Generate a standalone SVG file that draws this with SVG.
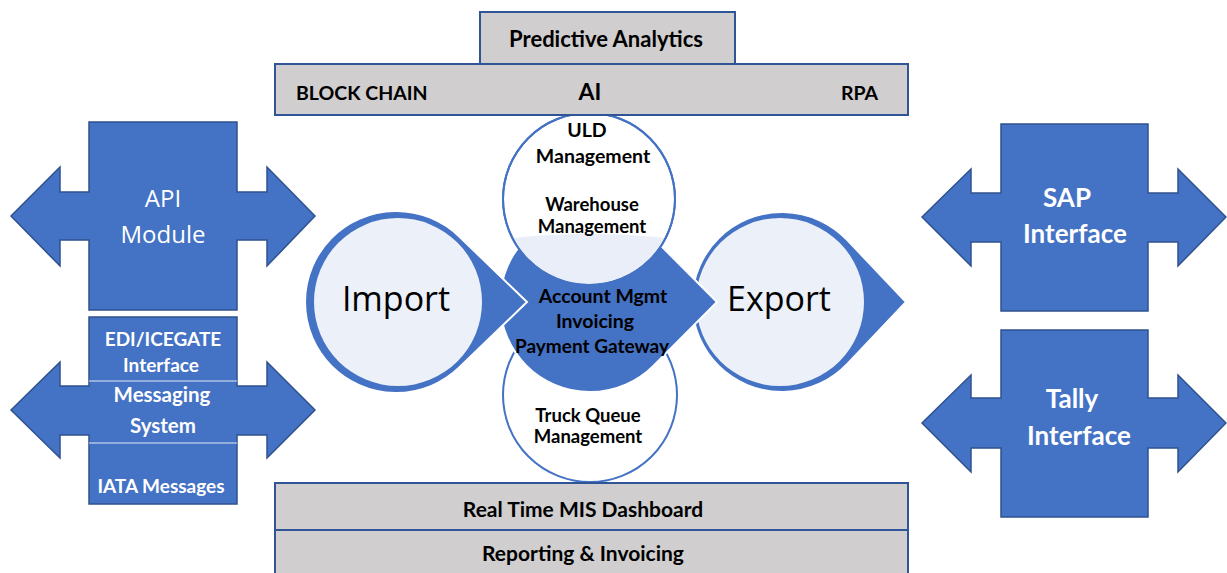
<svg xmlns="http://www.w3.org/2000/svg" width="1227" height="573" viewBox="0 0 1227 573">
  <style>
    .blk{fill:#4472c4;stroke:#2f528f;stroke-width:1.5}
    .bar{fill:#d0cece;stroke:#2f5597;stroke-width:2}
    .tear{fill:#4472c4;stroke:#ffffff;stroke-width:2}
    .inner{fill:#ebf0f9}
    .wc{fill:#ffffff;stroke:#4472c4;stroke-width:2}
    .b{font-family:Lato,"Liberation Sans",sans-serif;font-weight:700;text-anchor:middle;fill:#000}
    .w{fill:#ffffff}
    .st{text-anchor:start}
    .seg{font-family:"Open Sans","Liberation Sans",sans-serif;text-anchor:middle}
    .div{stroke:#ffffff;stroke-width:1;opacity:0.85}
  </style>
  <defs>
    <clipPath id="uldClip"><circle cx="589" cy="199" r="85"/></clipPath>
  </defs>
  <rect width="1227" height="573" fill="#ffffff"/>

  <g id="api-module">
    <path class="blk" d="M11,216 L60,167 L60,192 L89,192 L89,122 L237,122 L237,192 L267,192 L267,167 L315,216 L267,266 L267,240 L237,240 L237,310 L89,310 L89,240 L60,240 L60,266 Z"/>
    <text class="seg w" x="163" y="207" font-size="24">API</text>
    <text class="seg w" x="163" y="243" font-size="24">Module</text>
  </g>

  <g id="messaging-system">
    <path class="blk" d="M11,410 L60,362 L60,386 L89,386 L89,317 L237,317 L237,386 L267,386 L267,362 L315,410 L267,458 L267,435 L237,435 L237,504 L89,504 L89,435 L60,435 L60,458 Z"/>
    <line class="div" x1="89" y1="381" x2="237" y2="381"/>
    <line class="div" x1="89" y1="443" x2="237" y2="443"/>
    <text class="b w" x="163" y="346" font-size="19">EDI/ICEGATE</text>
    <text class="b w" x="161" y="372" font-size="19">Interface</text>
    <text class="b w" x="162" y="402" font-size="20.5">Messaging</text>
    <text class="b w" x="163" y="433" font-size="20.5">System</text>
    <text class="b w" x="161" y="493" font-size="19">IATA Messages</text>
  </g>

  <g id="sap-interface">
    <path class="blk" d="M922,217 L971,169 L971,193 L1001,193 L1001,124 L1148,124 L1148,193 L1178,193 L1178,169 L1226,217 L1178,266 L1178,242 L1148,242 L1148,311 L1001,311 L1001,242 L971,242 L971,266 Z"/>
    <text class="b w" x="1067" y="207" font-size="26">SAP</text>
    <text class="b w" x="1075" y="243" font-size="26">Interface</text>
  </g>

  <g id="tally-interface">
    <path class="blk" d="M922,423 L971,375 L971,398 L1001,398 L1001,330 L1148,330 L1148,398 L1178,398 L1178,375 L1226,423 L1178,472 L1178,448 L1148,448 L1148,517 L1001,517 L1001,448 L971,448 L971,472 Z"/>
    <text class="b w" x="1072" y="408" font-size="26">Tally</text>
    <text class="b w" x="1079" y="445" font-size="26">Interface</text>
  </g>

  <g id="truck-queue">
    <circle class="wc" cx="590" cy="395" r="87"/>
  </g>

  <g id="export">
    <path class="tear" d="M906,302 L847.3,240.1 A90,90 0 1 0 847.3,363.9 Z"/>
    <circle class="inner" cx="780" cy="302" r="84"/>
    <text class="seg" x="779" y="311" font-size="34" fill="#000">Export</text>
  </g>

  <g id="account-mgmt">
    <path class="tear" d="M717,302 L653.6,238.4 A90,90 0 1 0 653.6,365.6 Z"/>
  </g>

  <g id="import">
    <path class="tear" d="M527,302 L459.2,236.5 A91,91 0 1 0 459.2,367.5 Z"/>
    <circle class="inner" cx="398" cy="302" r="84"/>
    <text class="seg" x="396" y="311" font-size="34" fill="#000">Import</text>
  </g>

  <g id="uld-warehouse">
    <circle class="wc" cx="589" cy="199" r="86"/>
    <path clip-path="url(#uldClip)" d="M495,240 Q589,228 685,240 L685,295 L495,295 Z" fill="#e9eef8"/>
    <circle cx="589" cy="199" r="86" fill="none" stroke="#4472c4" stroke-width="2"/>
  </g>

  <g id="center-labels">
    <text class="b" x="587" y="137" font-size="19.5">ULD</text>
    <text class="b" x="593" y="163" font-size="19.5">Management</text>
    <text class="b" x="592" y="211" font-size="18.5">Warehouse</text>
    <text class="b" x="592" y="233" font-size="18.5">Management</text>
    <text class="b" x="603" y="303" font-size="19.5">Account Mgmt</text>
    <text class="b" x="595" y="328" font-size="19.5">Invoicing</text>
    <text class="b" x="592" y="353" font-size="19">Payment Gateway</text>
    <text class="b" x="588" y="422" font-size="18.5">Truck Queue</text>
    <text class="b" x="588" y="443" font-size="18.5">Management</text>
  </g>

  <g id="predictive-analytics">
    <rect class="bar" x="480" y="12" width="255" height="52"/>
    <text class="b" x="606" y="47" font-size="22">Predictive Analytics</text>
  </g>

  <g id="tech-bar">
    <rect class="bar" x="275" y="64" width="633" height="51"/>
    <text class="b st" x="296" y="100" font-size="19.5">BLOCK CHAIN</text>
    <text class="b" x="590" y="100" font-size="23" font-weight="400">AI</text>
    <text class="b st" x="841" y="100" font-size="19.5">RPA</text>
  </g>

  <g id="mis-dashboard">
    <rect class="bar" x="275" y="483" width="633" height="47"/>
    <text class="b" x="583" y="517" font-size="21">Real Time MIS Dashboard</text>
  </g>

  <g id="reporting-invoicing">
    <rect class="bar" x="275" y="530" width="633" height="50"/>
    <text class="b" x="583" y="561" font-size="21">Reporting &amp; Invoicing</text>
  </g>

  <g id="connectors"></g>
</svg>
